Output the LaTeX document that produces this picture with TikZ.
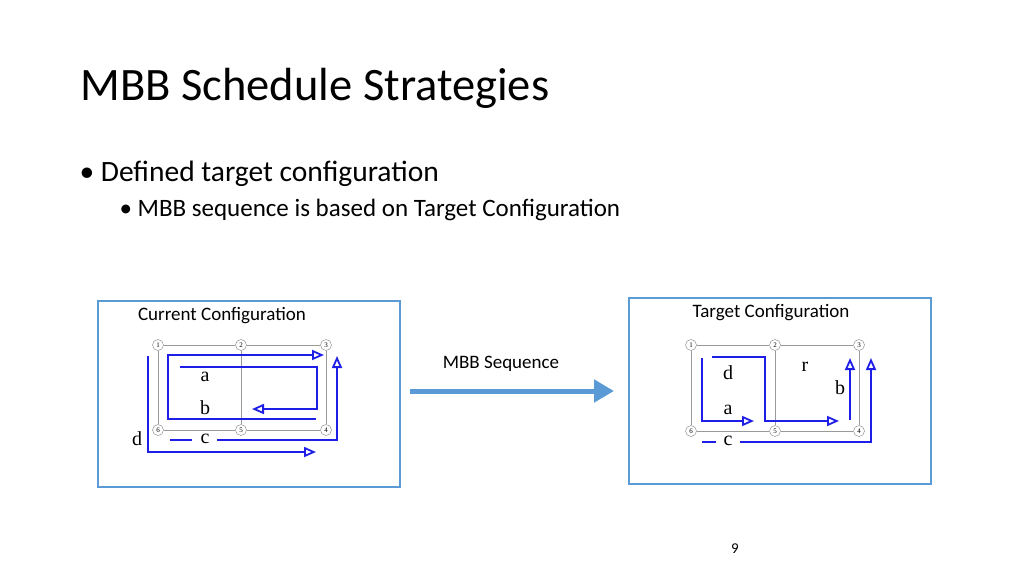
\documentclass[tikz,border=0pt]{standalone}
\usepackage{fontspec}
\setmainfont{Carlito}
\newfontfamily\lblfont{Liberation Serif}
\usetikzlibrary{arrows.meta}
\definecolor{boxblue}{RGB}{91,155,213}
\definecolor{pathblue}{RGB}{30,30,230}
\begin{document}
\begin{tikzpicture}[
  x=1pt,y=-1pt,
  vnode/.style={draw=gray,circle,fill=white,minimum size=11pt,inner sep=0pt,font=\lblfont\fontsize{7}{7}\selectfont},
  grid/.style={draw=gray!80,line width=1pt},
  route/.style={draw=pathblue,line width=1.8pt},
  rarrow/.style={route,-{Triangle[open,length=12pt,width=10pt]}},
  frame/.style={draw=boxblue,line width=2.5pt},
  lbl/.style={font=\lblfont\fontsize{20}{20}\selectfont}
]
  \useasboundingbox (0,0) rectangle (1024,576);
  % title and bullets
  \node[anchor=base west,font=\fontsize{46.5}{46.5}\selectfont] (title) at (77,100) {MBB Schedule Strategies};
  \node[anchor=base west,font=\fontsize{29.5}{29.5}\selectfont] (b1) at (76,181) {\textbullet\ Defined target configuration};
  \node[anchor=base west,font=\fontsize{25}{25}\selectfont] (b2) at (116,216) {\textbullet\ MBB sequence is based on Target Configuration};

  % frames
  \draw[frame] (98,301) rectangle (400,487);
  \draw[frame] (629,298) rectangle (931,484);
  \node[font=\fontsize{19}{19}\selectfont] (curlbl) at (222,316) {Current Configuration};
  \node[font=\fontsize{19}{19}\selectfont] (tgtlbl) at (771,313) {Target Configuration};

  % MBB arrow
  \node[font=\fontsize{19}{19}\selectfont] (seqlbl) at (501,364) {MBB Sequence};
  \coordinate (seqA) at (410,391);
  \coordinate (seqB) at (614,391);
  \draw[boxblue,line width=5pt,-{Triangle[length=20pt,width=22pt]}] (seqA) -- (seqB);

  % current grid
  \node[vnode] (l1) at (158,345) {1};
  \node[vnode] (l2) at (241,345) {2};
  \node[vnode] (l3) at (326,345) {3};
  \node[vnode] (l6) at (158,430) {6};
  \node[vnode] (l5) at (241,430) {5};
  \node[vnode] (l4) at (326,430) {4};
  \draw[grid] (l1) -- (l2) -- (l3) -- (l4) -- (l5) -- (l6) -- (l1);
  \draw[grid] (l2) -- (l5);

  % current routes
  \draw[rarrow] (180,367) -- (317,367) -- (317,409) -- (252,409);
  \draw[rarrow] (316,419) -- (168,419) -- (168,355) -- (324,355);
  \draw[route] (170,440) -- (192,440);
  \draw[rarrow] (217,440) -- (337,440) -- (337,356);
  \draw[rarrow] (148,356) -- (148,452) -- (316,452);
  \node[lbl] (la) at (205,377) {a};
  \node[lbl] (lb) at (205,408) {b};
  \node[lbl] (lc) at (205,439) {c};
  \node[lbl] (ld) at (137,439) {d};

  % target grid
  \node[vnode] (r1) at (691,345) {1};
  \node[vnode] (r2) at (775,345) {2};
  \node[vnode] (r3) at (859,345) {3};
  \node[vnode] (r6) at (691,431) {6};
  \node[vnode] (r5) at (775,431) {5};
  \node[vnode] (r4) at (859,431) {4};
  \draw[grid] (r1) -- (r2) -- (r3) -- (r4) -- (r5) -- (r6) -- (r1);
  \draw[grid] (r2) -- (r5);

  % target routes
  \draw[rarrow] (702,358) -- (702,421) -- (754,421);
  \draw[rarrow] (712,357) -- (765,357) -- (765,421) -- (839,421);
  \draw[rarrow] (850,420) -- (850,358);
  \draw[route] (702,442) -- (716,442);
  \draw[rarrow] (740,442) -- (871,442) -- (871,358);
  \node[lbl] (rd) at (728,373) {d};
  \node[lbl] (ra) at (728,410) {a};
  \node[lbl] (rr) at (805,367) {r};
  \node[lbl] (rb) at (840,388) {b};
  \node[lbl] (rc) at (728,441) {c};

  % page number
  \node[font=\fontsize{15}{15}\selectfont] (pnum) at (735,549) {9};
\end{tikzpicture}
\end{document}
